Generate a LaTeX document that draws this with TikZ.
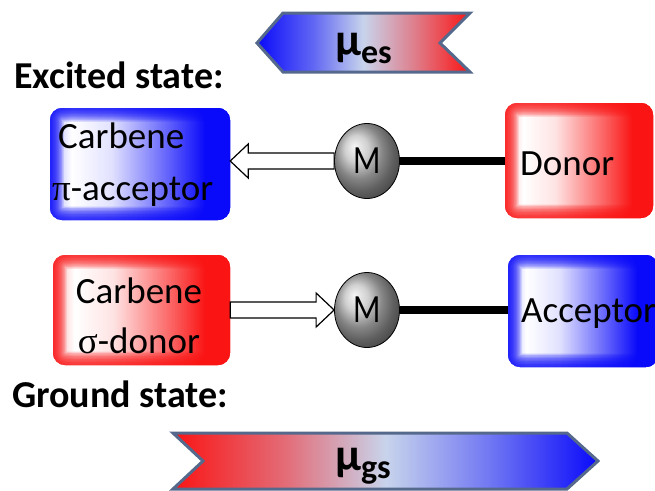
\documentclass[tikz,border=0pt]{standalone}
\usepackage{fontspec}
\setmainfont{Carlito}
\newfontfamily\grk{Liberation Serif}
\usetikzlibrary{calc,shapes.geometric}
\definecolor{chevborder}{RGB}{85,105,140}
\definecolor{chevmid}{RGB}{200,212,236}
\definecolor{myred}{RGB}{250,20,20}
\definecolor{myblue}{RGB}{10,10,250}
\pgfdeclarehorizontalshading{blueglow}{100bp}{color(0bp)=(myblue!35!white); color(25bp)=(myblue!35!white);
  color(31bp)=(white); color(42bp)=(myblue!12!white); color(58bp)=(myblue!65!white); color(68bp)=(myblue); color(100bp)=(myblue)}
\pgfdeclarehorizontalshading{redglow}{100bp}{color(0bp)=(myred!35!white); color(25bp)=(myred!35!white);
  color(31bp)=(white); color(42bp)=(myred!12!white); color(58bp)=(myred!65!white); color(68bp)=(myred); color(100bp)=(myred)}
\pgfdeclarehorizontalshading{chevbr}{100bp}{color(0bp)=(myblue); color(25bp)=(myblue);
  color(38bp)=(myblue!55!chevmid); color(50bp)=(chevmid); color(62bp)=(myred!45!chevmid); color(75bp)=(myred); color(100bp)=(myred)}
\pgfdeclarehorizontalshading{chevrb}{100bp}{color(0bp)=(myred); color(25bp)=(myred);
  color(38bp)=(myred!55!chevmid); color(50bp)=(chevmid); color(62bp)=(myblue!45!chevmid); color(75bp)=(myblue); color(100bp)=(myblue)}
\tikzset{
  box/.style={rounded corners=12pt, inner sep=0pt, draw=none},
  glow/.style={path picture={
      \shade[shading=#1glow] (path picture bounding box.north west) rectangle (path picture bounding box.south east);
      \foreach \w in {3,6,9,12,15,18,21,24,27}{
        \draw[my#1, opacity=0.18, line width=\w pt, rounded corners=12pt]
          (path picture bounding box.north west) rectangle (path picture bounding box.south east);}}},
  bluebox/.style={box, fill=myblue, glow=blue},
  redbox/.style={box, fill=myred, glow=red},
  boxtext/.style={inner sep=0pt, font=\fontsize{37}{40}\selectfont},
  heading/.style={inner sep=0pt, anchor=base west, font=\fontsize{38}{40}\selectfont\bfseries},
  metal/.style={ellipse, minimum width=65pt, minimum height=75pt, inner sep=0pt, ball color=gray!50!white, draw=black, line width=0.8pt, font=\fontsize{40}{40}\selectfont},
  bond/.style={line width=8pt},
  hollow/.style={draw=black, fill=white, line width=1.2pt, line join=miter},
  chev/.style={draw=chevborder, line width=3pt, line join=miter},
  mulabel/.style={inner sep=0pt, anchor=base west, font=\fontsize{46}{46}\selectfont\bfseries},
}
\begin{document}
\begin{tikzpicture}[x=1pt,y=-1pt]
\useasboundingbox (0,0) rectangle (655,490);
% top chevron (excited state dipole)
\shadedraw[chev, shading=chevbr]
  (257,43) -- (283,13) -- (470,13) -- (440,43) -- (470,72) -- (283,72) -- cycle;
\node[mulabel] (mues) at (335,55) {μ\raisebox{-8pt}{\fontsize{34}{34}\selectfont es}};
% bottom chevron (ground state dipole)
\shadedraw[chev, shading=chevrb]
  (173,433) -- (567,433) -- (598,461) -- (567,489) -- (173,489) -- (203,461) -- cycle;
\node[mulabel] (mugs) at (335,470) {μ\raisebox{-8pt}{\fontsize{34}{34}\selectfont gs}};
% headings
\node[heading] (exc) at (14,88) {Excited state:};
\node[heading] (gnd) at (12,407) {Ground state:};
% excited state row
\node[bluebox, minimum width=180pt, minimum height=112pt] (cb1) at (140,164) {};
\node[boxtext, anchor=base west] (cb1a) at (58,148) {Carbene};
\node[boxtext, anchor=base west] (cb1b) at (52,200) {{\grk π}-acceptor};
\node[metal] (m1) at (367,161) {\scalebox{0.8}[1]{M}};
\node[redbox, minimum width=148pt, minimum height=115pt] (don) at (579,160.5) {};
\node[boxtext, anchor=base west] (dontext) at (520,175) {Donor};
\draw[bond] (m1) -- (don.west |- m1);
\draw[hollow] (cb1.east |- m1) -- ++(18,-17) -- ++(0,9) -- ($(m1.west)+(0,-8)$)
  -- ($(m1.west)+(0,8)$) -- ($(cb1.east |- m1)+(18,8)$) -- ++(0,9) -- cycle;
% ground state row
\node[redbox, minimum width=177pt, minimum height=110pt] (cb2) at (141.5,310) {};
\node[boxtext, anchor=base] (cb2a) at (139,303) {Carbene};
\node[boxtext, anchor=base] (cb2b) at (139,353) {{\grk σ}-donor};
\node[metal] (m2) at (367,310) {\scalebox{0.8}[1]{M}};
\node[bluebox, minimum width=150pt, minimum height=112pt] (acc) at (583,311) {};
\node[boxtext, anchor=base west] (acctext) at (521,322) {Acceptor};
\draw[bond] (m2) -- (acc.west |- m2);
\draw[hollow] ($(cb2.east |- m2)+(0,-8)$) -- ($(m2.west)+(-18,-8)$) -- ++(0,-9)
  -- (m2.west) -- ++(-18,17) -- ++(0,-9) -- ($(cb2.east |- m2)+(0,8)$) -- cycle;
\end{tikzpicture}
\end{document}
